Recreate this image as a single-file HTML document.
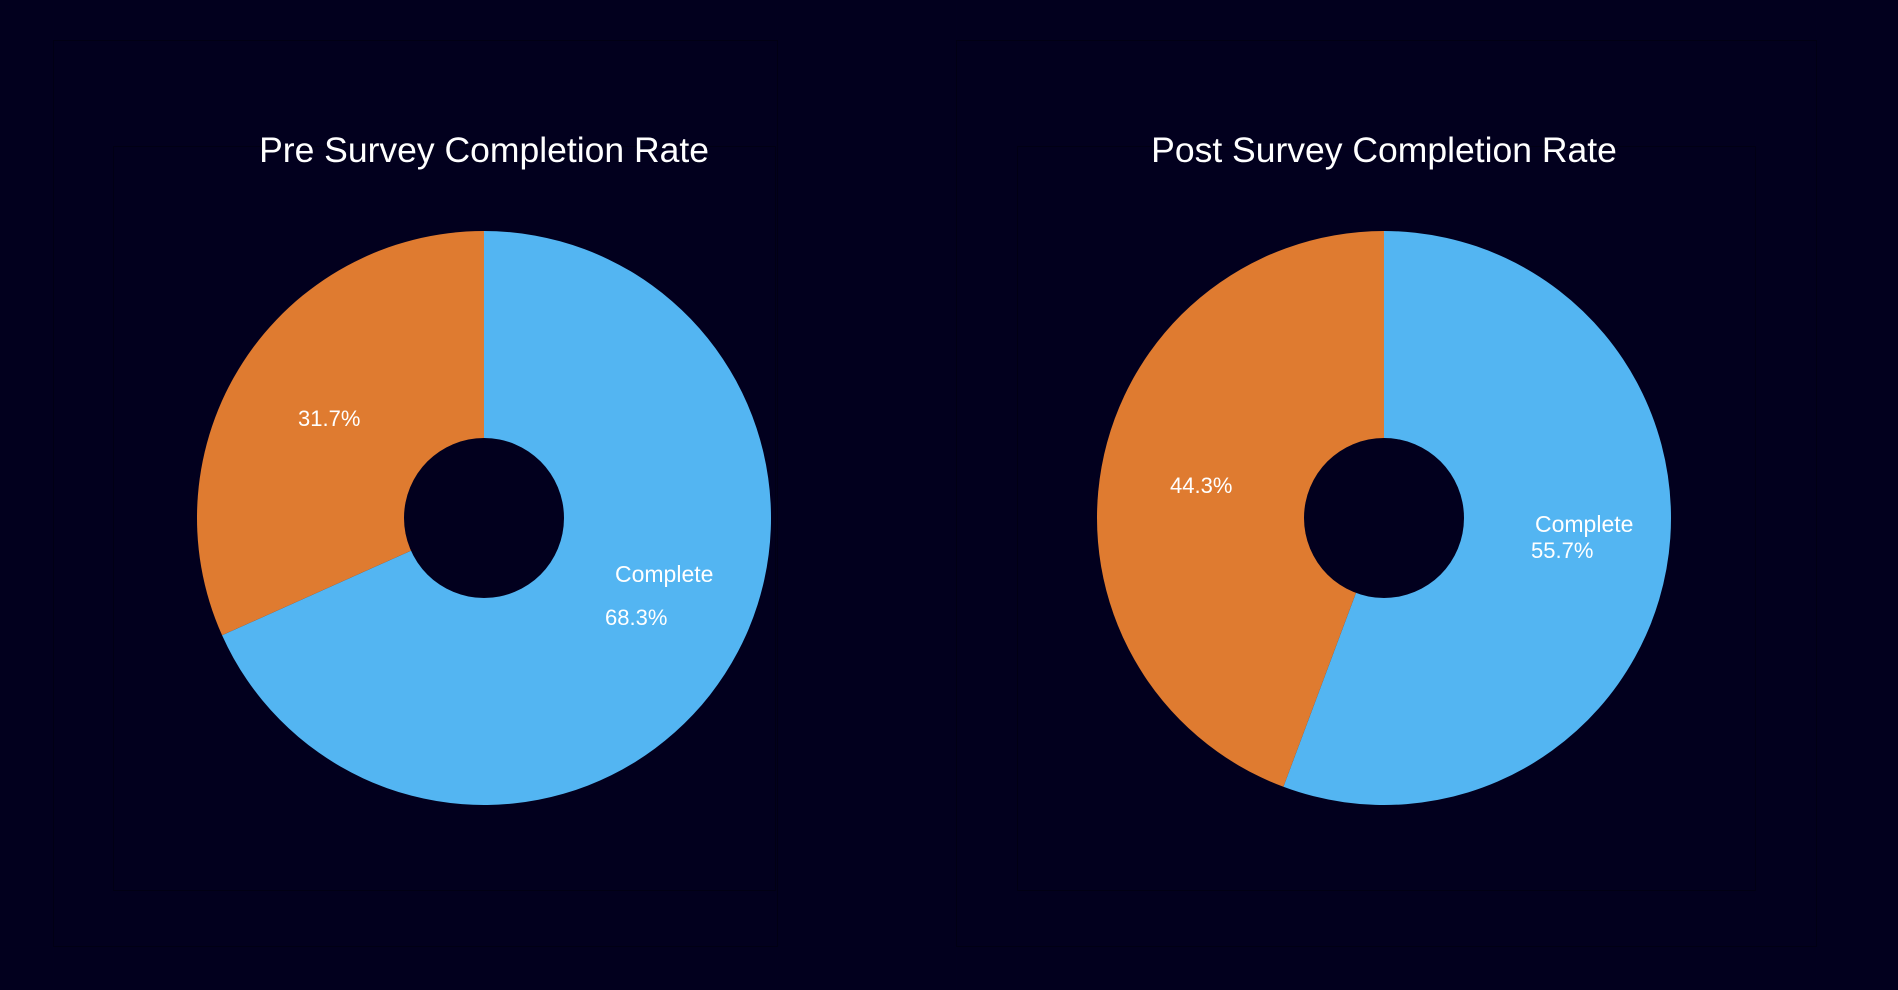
<!DOCTYPE html>
<html><head><meta charset="utf-8"><style>
html,body{margin:0;padding:0;background:#02001e;}
svg{display:block;}
text{font-family:"Liberation Sans",sans-serif;fill:#fff;}
</style></head><body>
<svg id="c" width="1898" height="990">
<rect x="0" y="0" width="1898" height="990" fill="#02001e"/>
<rect x="53.5" y="40.5" width="724" height="906" fill="none" stroke="#010014" stroke-width="1"/>
<rect x="113.5" y="146.5" width="662" height="744" fill="none" stroke="#010014" stroke-width="1"/>
<rect x="956.5" y="40.5" width="860" height="906" fill="none" stroke="#010014" stroke-width="1"/>
<rect x="1017.5" y="146.5" width="738" height="744" fill="none" stroke="#010014" stroke-width="1"/>
</svg>
<script>
const charts = ["Pre Survey Completion Rate","Post Survey Completion Rate"];
const categories = ["Complete","Incomplete"];
const preValues = [68.3, 31.7];
const postValues = [55.7, 44.3];
const colors = ["#53b5f2","#df7b30"];
const svg = document.getElementById('c');
const NS = "http://www.w3.org/2000/svg";
function mk(tag, attrs){const e=document.createElementNS(NS,tag);for(const k in attrs)e.setAttribute(k,attrs[k]);svg.appendChild(e);return e;}
const specs = [
 {cx:484, cy:518, vals:preValues, key:'pre', labels:[[615,582,605,625],[298,426]]},
 {cx:1384, cy:518, vals:postValues, key:'post', labels:[[1535,532,1531,558],[1170,493]]}
];
const R=287, r=80;
specs.forEach((s,i)=>{
  const t=mk('text',{x:s.cx,y:162,'text-anchor':'middle','font-size':35.5});
  t.textContent=charts[i];
  
  
  const total=s.vals.reduce((a,b)=>a+b,0);
  let a0=0;
  s.vals.forEach((v,j)=>{
    const a1=a0+v/total*2*Math.PI;
    const x0=s.cx+R*Math.sin(a0), y0=s.cy-R*Math.cos(a0);
    const x1=s.cx+R*Math.sin(a1), y1=s.cy-R*Math.cos(a1);
    const large=(a1-a0)>Math.PI?1:0;
    const p=mk('path',{d:`M${s.cx},${s.cy} L${x0},${y0} A${R},${R} 0 ${large} 1 ${x1},${y1} Z`,fill:colors[j]});
    
    
    a0=a1;
  });
  const h=mk('circle',{cx:s.cx,cy:s.cy,r:r,fill:'#02001e'});
  
  
  const L=s.labels;
  const c=mk('text',{x:L[0][0],y:L[0][1],'font-size':23});
  c.textContent=categories[0];
  
  
  const p1=mk('text',{x:L[0][2],y:L[0][3],'font-size':22});
  p1.textContent=s.vals[0].toFixed(1)+'%';
  
  
  const p2=mk('text',{x:L[1][0],y:L[1][1],'font-size':22});
  p2.textContent=s.vals[1].toFixed(1)+'%';
  
  
});
</script>
</body></html>
